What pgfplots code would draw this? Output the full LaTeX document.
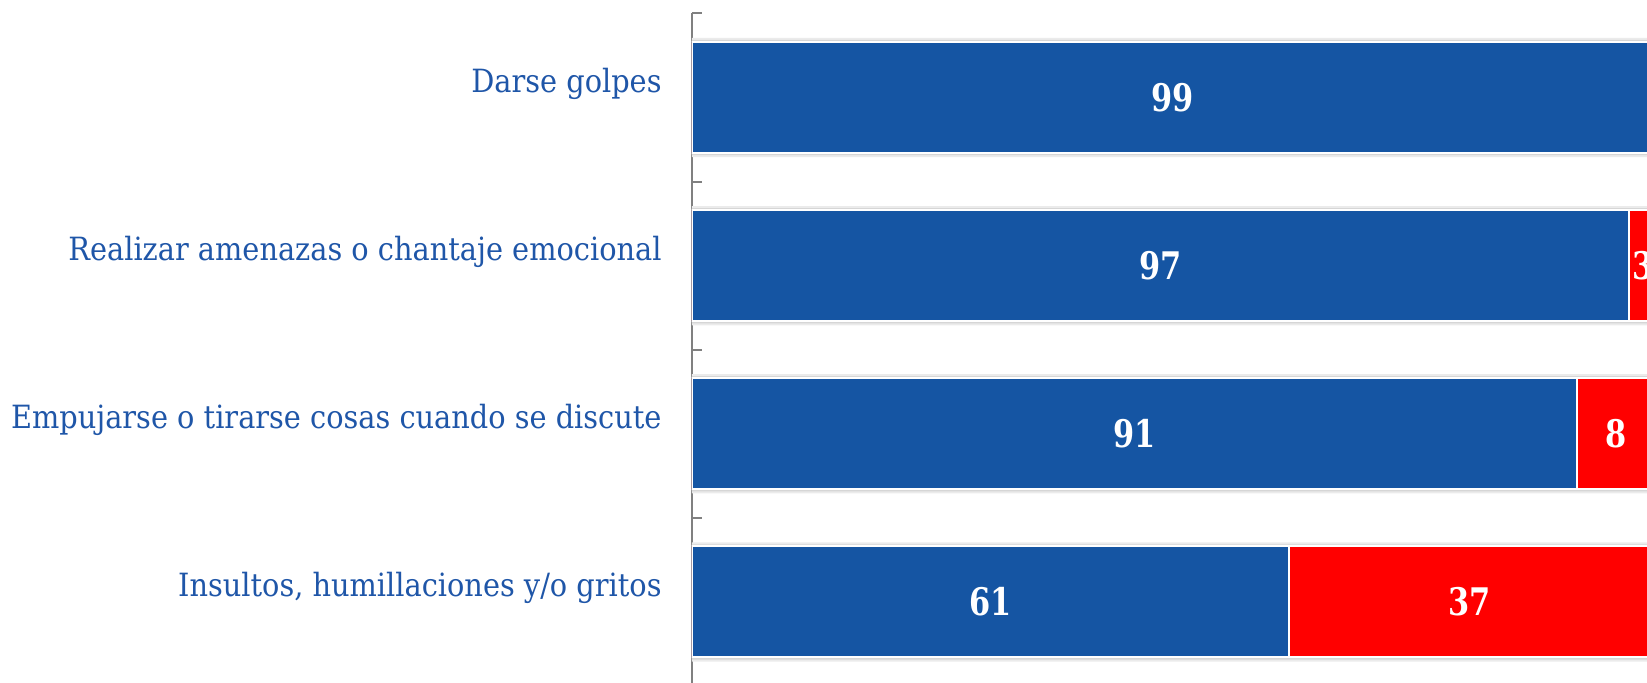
\documentclass[border=0pt]{standalone}
\usepackage{pgfplots}
\usepackage{pgfplotstable}
\pgfplotsset{compat=1.18}
\usepackage{fontspec}
\setmainfont{DejaVu Serif}[FakeStretch=0.9]
\newfontfamily\numfont{DejaVu Serif}[FakeStretch=0.8]
\definecolor{barblue}{RGB}{21,85,163}
\definecolor{txtblue}{RGB}{31,86,168}
\definecolor{barred}{RGB}{255,0,0}
\definecolor{axgray}{RGB}{128,128,128}

% blue/red: bar lengths; lb/lr: printed labels
\pgfplotstableread{
y blue red lb lr
0 99 1 99 1
1 96.4 3 97 3
2 91.1 8 91 8
3 61.5 37 61 37
}\data

\begin{document}
\begin{tikzpicture}
\clip (-346pt,1.5pt) rectangle (477.5pt,343pt);
\begin{axis}[
 at={(0,0)}, anchor=south west,
 scale only axis, width=477.5pt, height=336.25pt,
 xmin=0, xmax=98.3, ymin=-0.5, ymax=3.5, y dir=reverse,
 axis x line=none, axis y line*=left,
 y axis line style={axgray, line width=1pt, -},
 ytick={0,1,2,3},
 yticklabels={Darse golpes, Realizar amenazas o chantaje emocional, Empujarse o tirarse cosas cuando se discute, {Insultos, humillaciones y/o gritos}},
 major tick length=0pt,
 minor ytick={-0.5,0.5,1.5,2.5,3.5},
 minor tick length=5pt, tick align=inside,
 minor tick style={axgray, line width=1pt},
 yticklabel style={font=\fontsize{16}{18}\selectfont, text=txtblue, inner sep=0pt, xshift=-15pt, yshift=7pt},
 clip=true,
 bar shift=0pt, bar width=0.66,
]
\addplot[xbar, bar shift=0pt, fill=black!8, draw=none, bar width=0.71] table[x expr=100, y=y]{\data};
\addplot[xbar, bar shift=0pt, fill=black!16, draw=none, bar width=0.685] table[x expr=100, y=y]{\data};
\addplot[xbar, bar shift=0pt, fill=barred, draw=white, line width=1pt] table[x expr=\thisrow{blue}+\thisrow{red}, y=y]{\data};
\addplot[xbar, bar shift=0pt, fill=barblue, draw=white, line width=1pt] table[x=blue, y=y]{\data};
\addplot[only marks, mark=none, point meta=explicit symbolic, nodes near coords,
  every node near coord/.append style={anchor=center, text=white, font=\numfont\bfseries\fontsize{19}{20}\selectfont}]
  table[x expr=\thisrow{blue}/2, y=y, meta=lb]{\data};
\addplot[only marks, mark=none, point meta=explicit symbolic, nodes near coords,
  every node near coord/.append style={anchor=center, text=white, font=\numfont\bfseries\fontsize{19}{20}\selectfont}]
  table[x expr=\thisrow{blue}+\thisrow{red}/2, y=y, meta=lr]{\data};
\end{axis}
\end{tikzpicture}
\end{document}
